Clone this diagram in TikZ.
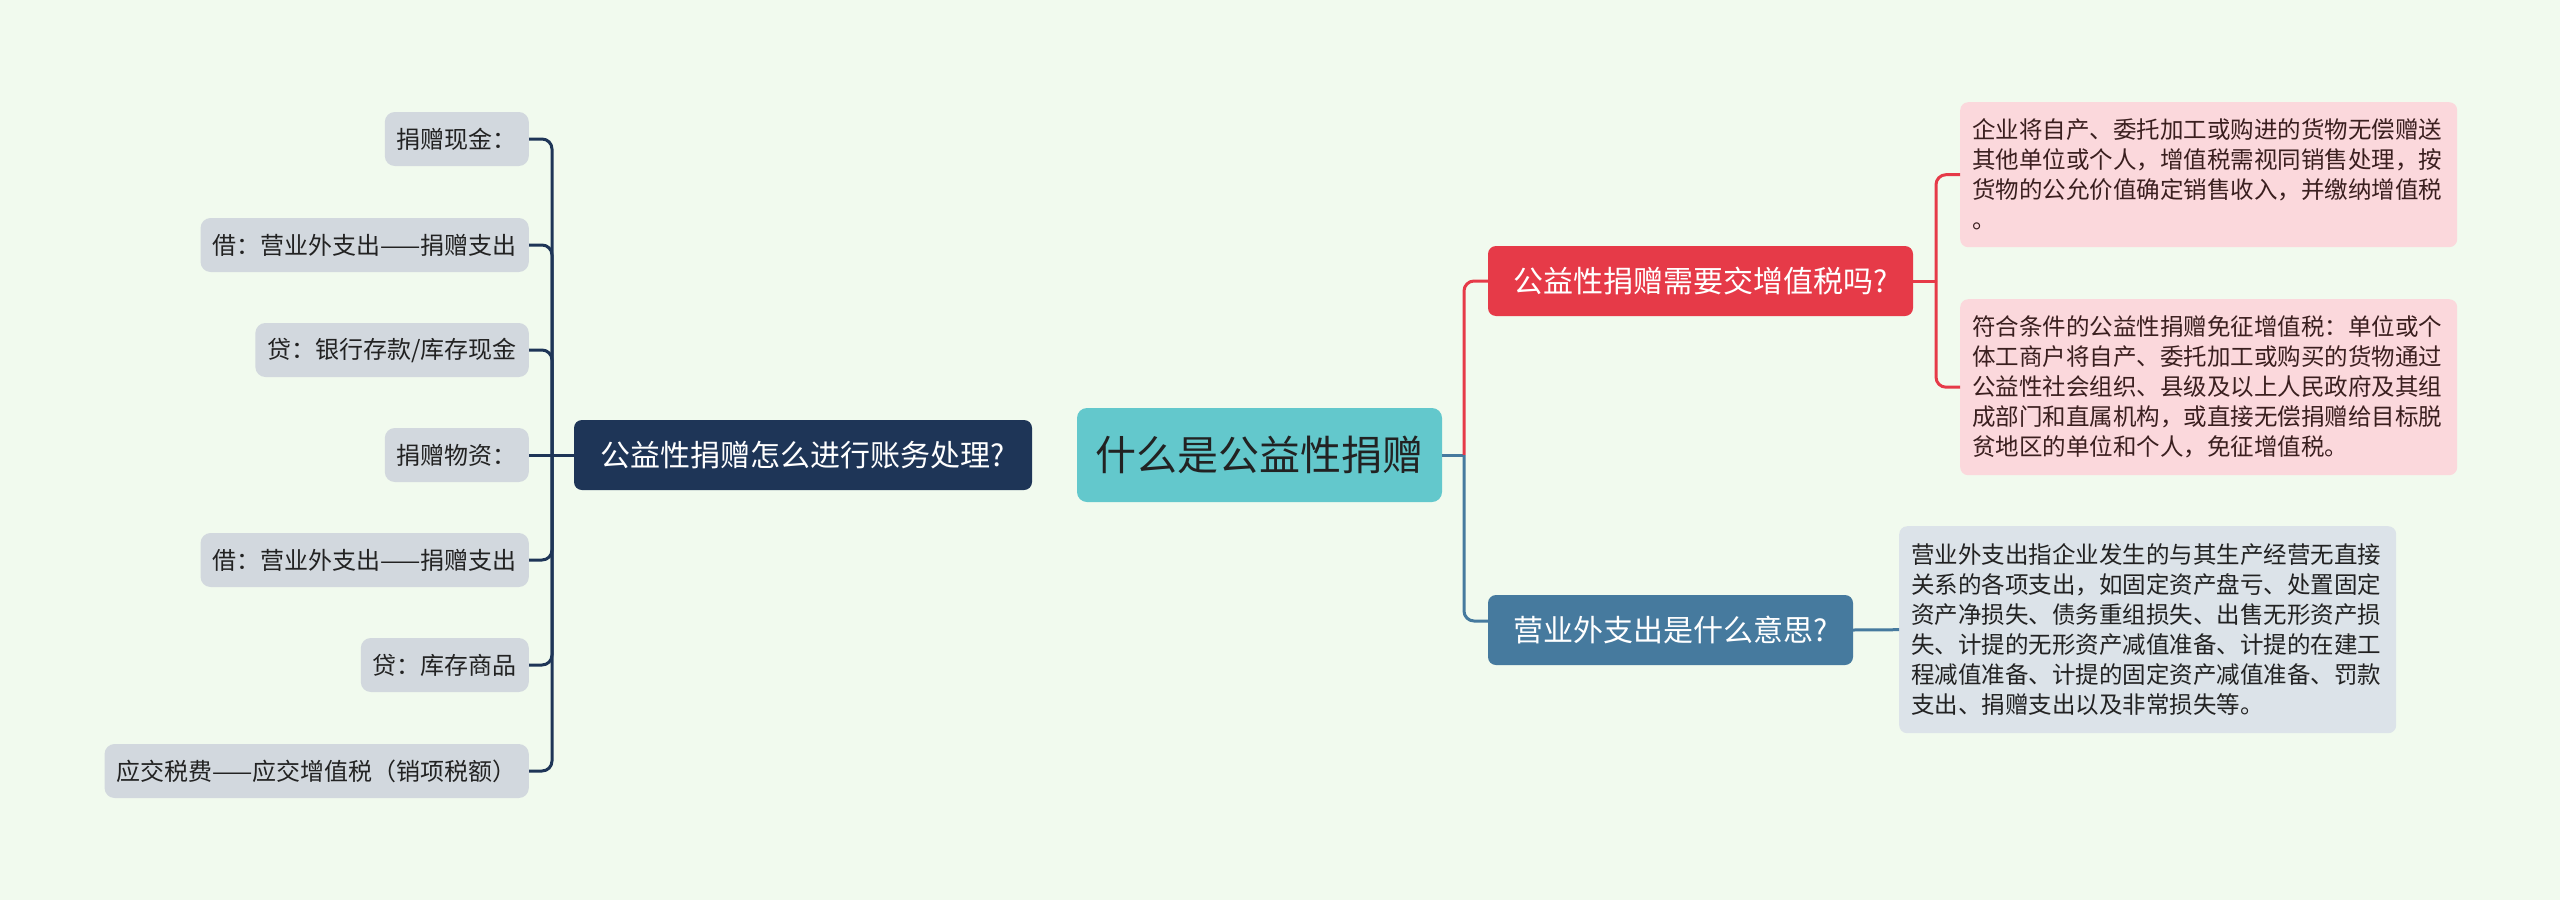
\documentclass[tikz,border=0pt]{standalone}
\usepackage{fontspec}
\newfontfamily\cjk{Noto Sans CJK SC}
\definecolor{bgc}{HTML}{F1FAEE}
\definecolor{rootc}{HTML}{63C8CC}
\definecolor{navyc}{HTML}{1E3557}
\definecolor{redc}{HTML}{E63A48}
\definecolor{bluec}{HTML}{467A9E}
\definecolor{leafc}{HTML}{D2D8DE}
\definecolor{pinkc}{HTML}{FBD8DC}
\definecolor{detc}{HTML}{DCE3E9}
\definecolor{darktxt}{HTML}{222222}
\definecolor{pinktxt}{HTML}{3A1F1F}
\tikzset{
  rootbox/.style={fill=rootc, text=darktxt, rounded corners=10pt, minimum width=365pt, minimum height=94pt, inner sep=0pt, font=\cjk\fontsize{41}{50}\selectfont},
  mainbox/.style={rounded corners=8pt, minimum height=70pt, inner sep=0pt, text=white, font=\cjk\fontsize{30}{36}\selectfont},
  leafbox/.style={fill=leafc, text=darktxt, rounded corners=10pt, minimum height=54pt, inner xsep=12pt, inner ysep=0pt, anchor=east, font=\cjk\fontsize{24}{28}\selectfont},
  detbox/.style={rounded corners=8pt, anchor=north west, inner xsep=12pt, inner ysep=0pt, text width=473pt, align=left, font=\cjk\fontsize{23.5}{30}\selectfont},
  navyline/.style={draw=navyc, line width=3pt},
  redline/.style={draw=redc, line width=3pt},
  blueline/.style={draw=bluec, line width=3pt},
}
\begin{document}
\begin{tikzpicture}[x=1pt,y=-1pt]
\fill[bgc] (0,0) rectangle (2560,900);
\useasboundingbox (0,0) rectangle (2560,900);

% root
\node[rootbox] (root) at (1259.5,455) {什么是公益性捐赠};

% main branches
\node[mainbox, fill=navyc, minimum width=458pt] (lm) at (803,455) {公益性捐赠怎么进行账务处理?};
\node[mainbox, fill=redc, minimum width=425pt] (rd) at (1700.5,281) {公益性捐赠需要交增值税吗?};
\node[mainbox, fill=bluec, minimum width=365pt] (bl) at (1670.5,630) {营业外支出是什么意思?};

% leaves
\node[leafbox] (l1) at (529,139) {捐赠现金：};
\node[leafbox] (l2) at (529,245) {借：营业外支出——捐赠支出};
\node[leafbox] (l3) at (529,350) {贷：银行存款/库存现金};
\node[leafbox] (l4) at (529,455) {捐赠物资：};
\node[leafbox] (l5) at (529,560) {借：营业外支出——捐赠支出};
\node[leafbox] (l6) at (529,665) {贷：库存商品};
\node[leafbox] (l7) at (529,771) {应交税费——应交增值税（销项税额）};

% details
\node[detbox, fill=pinkc, text=pinktxt, minimum height=145pt] (p1) at (1960,102) {企业将自产、委托加工或购进的货物无偿赠送\\其他单位或个人，增值税需视同销售处理，按\\货物的公允价值确定销售收入，并缴纳增值税\\。};
\node[detbox, fill=pinkc, text=pinktxt, minimum height=176pt] (p2) at (1960,299) {符合条件的公益性捐赠免征增值税：单位或个\\体工商户将自产、委托加工或购买的货物通过\\公益性社会组织、县级及以上人民政府及其组\\成部门和直属机构，或直接无偿捐赠给目标脱\\贫地区的单位和个人，免征增值税。};
\node[detbox, fill=detc, text=darktxt, minimum height=207pt] (d1) at (1899,526) {营业外支出指企业发生的与其生产经营无直接\\关系的各项支出，如固定资产盘亏、处置固定\\资产净损失、债务重组损失、出售无形资产损\\失、计提的无形资产减值准备、计提的在建工\\程减值准备、计提的固定资产减值准备、罚款\\支出、捐赠支出以及非常损失等。};

% left connectors
\coordinate (lj) at (552,455);
\foreach \n in {l1,l2,l3,l5,l6,l7}{
  \draw[navyline, rounded corners=10pt] (\n.east) -| (lj);
}
\draw[navyline] (lm.west) -- (l4.east);

% right connectors
\coordinate (rj) at (1464,455);
\draw[blueline] (root.east) -- (rj);
\draw[redline, rounded corners=10pt] (rj) |- (rd.west);
\draw[blueline, rounded corners=10pt] (rj) |- ([yshift=9pt]bl.west);

\coordinate (pj) at (1936,281);
\draw[redline] (rd.east) -- (pj);
\draw[redline, rounded corners=10pt] (pj) |- (p1.west);
\draw[redline, rounded corners=10pt] (pj) |- (p2.west);

\draw[blueline] (bl.east) -- (d1.west);
\end{tikzpicture}
\end{document}
